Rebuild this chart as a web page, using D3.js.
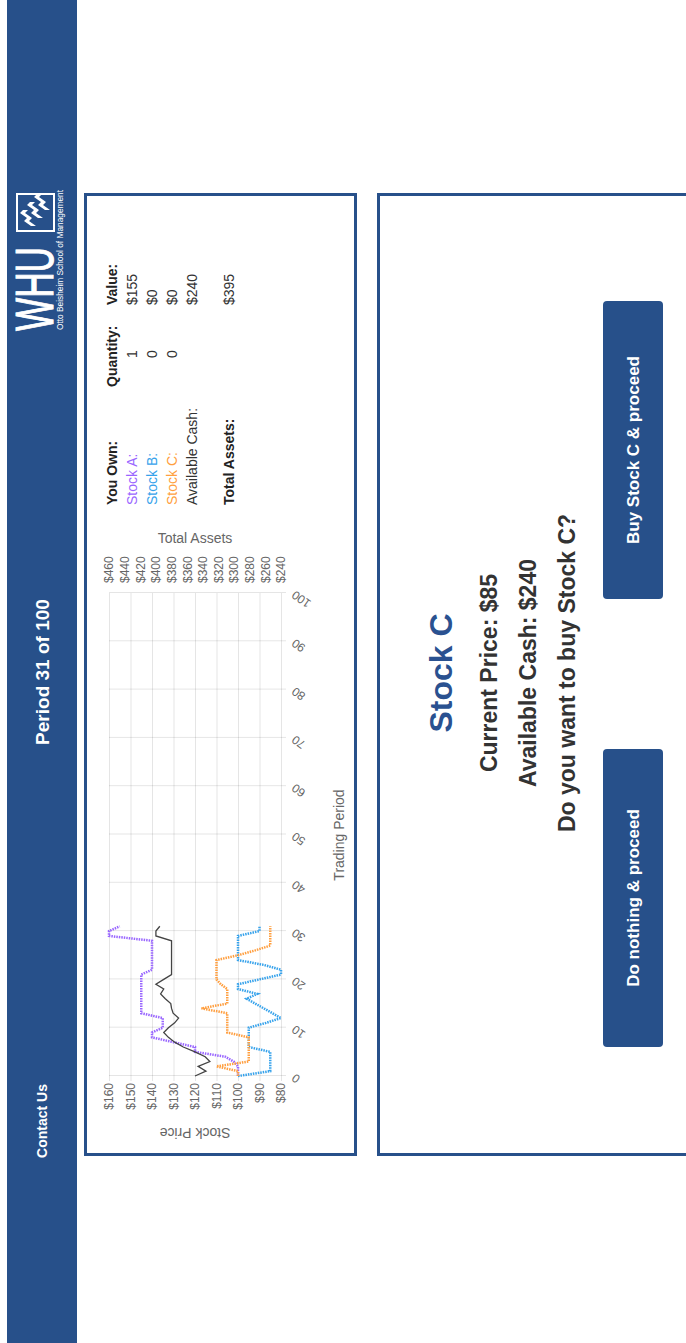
<!DOCTYPE html>
<html>
<head>
<meta charset="utf-8">
<script src="https://cdn.jsdelivr.net/npm/d3@7"></script>
<style>
  body { margin: 0; background: #fff; }
  svg { display: block; font-family: "Liberation Sans", Arial, Helvetica, sans-serif; }
</style>
</head>
<body>
<svg id="page" width="686" height="1343"></svg>
<script>
// trading periods shown so far
var periods = [0,1,2,3,4,5,6,7,8,9,10,11,12,13,14,15,16,17,18,19,20,21,22,23,24,25,26,27,28,29,30,31];
// stock prices per period
var stockA = [100,100,100,102,106,120,120,130,140,140,135,135,135,145,145,145,145,145,145,145,145,145,140,140,140,140,140,140,140,160,160,155];
var stockB = [100,85,85,85,85,85,95,95,95,95,95,87,80,84,88,92,96,91,100,100,90,80,80,88,100,100,100,100,100,100,90,90];
var stockC = [100,100,110,95,95,95,95,95,95,105,105,105,105,105,117,105,105,105,105,108,110,110,110,110,110,100,92,85,85,85,85,85];
var totalAssets = [350,336,346,331,337,350,365,376,384,390,384,376,371,378,380,381,388,394,390,400,390,380,380,380,380,380,380,380,380,400,400,395];

// axis ticks
var periodTicks = [0,10,20,30,40,50,60,70,80,90,100];
var priceTicks = [80,90,100,110,120,130,140,150,160];
var assetTicks = [240,260,280,300,320,340,360,380,400,420,440,460];

// holdings table
var ownLabels = ['Stock A:', 'Stock B:', 'Stock C:', 'Available Cash:'];
var ownQuantity = ['1', '0', '0', ''];
var ownValue = ['$155', '$0', '$0', '$240'];
var totalValue = '$395';

var W = 1343;
var BLUE = '#27508a';
var colA = '#9966ff', colB = '#36a2eb', colC = '#ff9f40';

var svg = d3.select('#page');
// the page is laid out landscape and turned a quarter to the left
var page = svg.append('g').attr('transform', 'translate(0,' + W + ') rotate(-90)');

// header bar
page.append('rect').attr('x', 0).attr('y', 7).attr('width', W).attr('height', 70).attr('fill', BLUE);
page.append('text').attr('x', 222).attr('y', 47).attr('text-anchor', 'middle')
  .attr('fill', '#fff').attr('font-size', 14).attr('font-weight', 'bold').text('Contact Us');
page.append('text').attr('x', 671).attr('y', 49).attr('text-anchor', 'middle')
  .attr('fill', '#fff').attr('font-size', 19).attr('font-weight', 'bold').text('Period 31 of 100');

// logo
var logo = page.append('g');
logo.append('text').attr('x', 1012).attr('y', 53).attr('fill', '#fff')
  .attr('font-size', 53).attr('stroke', '#fff').attr('stroke-width', 1)
  .attr('textLength', 84).attr('lengthAdjust', 'spacingAndGlyphs').text('WHU');
logo.append('rect').attr('x', 1112).attr('y', 17).attr('width', 37).attr('height', 37)
  .attr('fill', 'none').attr('stroke', '#fff').attr('stroke-width', 2);
[[1117, 31], [1125, 38], [1133, 45]].forEach(function (p) {
  logo.append('path')
    .attr('d', 'M' + p[0] + ',' + p[1] + ' l5,-7 l3,3 l5,-7 l3,3 v5 l-3,-3 l-5,7 l-3,-3 l-5,7 z')
    .attr('fill', '#fff');
});
logo.append('text').attr('x', 1013).attr('y', 63).attr('fill', '#fff')
  .attr('font-size', 9.5).attr('textLength', 140).attr('lengthAdjust', 'spacingAndGlyphs')
  .text('Otto Beisheim School of Management');

// cards
page.append('rect').attr('x', 188.5).attr('y', 85.5).attr('width', 960).attr('height', 270)
  .attr('fill', '#fff').attr('stroke', BLUE).attr('stroke-width', 3);
page.append('rect').attr('x', 188.5).attr('y', 378.5).attr('width', 960).attr('height', 420)
  .attr('fill', '#fff').attr('stroke', BLUE).attr('stroke-width', 3);

// chart
var x = d3.scaleLinear().domain([0, 100]).range([267, 750]);
var yP = d3.scaleLinear().domain([80, 160]).range([281, 109]);
var yT = d3.scaleLinear().domain([240, 460]).range([281, 109]);
var chart = page.append('g');

var gx = chart.append('g').attr('transform', 'translate(0,286)')
  .call(d3.axisBottom(x).tickValues(periodTicks).tickSize(-(286 - 109)).tickPadding(0));
gx.select('.domain').remove();
gx.selectAll('line').attr('stroke', 'rgba(0,0,0,0.1)');
gx.selectAll('text').attr('x', 0).attr('y', 0).attr('dy', '0.35em')
  .attr('text-anchor', 'end').attr('transform', 'translate(-1,7) rotate(-55)')
  .attr('fill', '#666').attr('font-size', 12).attr('font-family', null);

var gy = chart.append('g').attr('transform', 'translate(262,0)')
  .call(d3.axisLeft(yP).tickValues(priceTicks).tickFormat(function (d) { return '$' + d; })
    .tickSize(-(750 - 262)).tickPadding(2));
gy.select('.domain').remove();
gy.selectAll('line').attr('stroke', 'rgba(0,0,0,0.1)');
gy.selectAll('text').attr('fill', '#666').attr('font-size', 12).attr('font-family', null);

var gr = chart.append('g').attr('transform', 'translate(750,0)')
  .call(d3.axisRight(yT).tickValues(assetTicks).tickFormat(function (d) { return '$' + d; })
    .tickSize(0).tickPadding(10));
gr.select('.domain').remove();
gr.selectAll('text').attr('fill', '#666').attr('font-size', 12).attr('font-family', null);

// axis titles
chart.append('text').attr('transform', 'translate(210,195) rotate(-90)')
  .attr('text-anchor', 'middle').attr('dy', '0.35em').attr('fill', '#666').attr('font-size', 14).text('Stock Price');
chart.append('text').attr('transform', 'translate(805,195) rotate(90)')
  .attr('text-anchor', 'middle').attr('dy', '0.35em').attr('fill', '#666').attr('font-size', 14).text('Total Assets');
chart.append('text').attr('x', 508).attr('y', 344).attr('text-anchor', 'middle')
  .attr('fill', '#666').attr('font-size', 14).text('Trading Period');

// series
function lineOn(scale) {
  return d3.line().x(function (d, i) { return x(periods[i]); }).y(function (d) { return scale(d); });
}
[[stockA, colA], [stockB, colB], [stockC, colC]].forEach(function (s) {
  chart.append('path').attr('d', lineOn(yP)(s[0])).attr('fill', 'none')
    .attr('stroke', s[1]).attr('stroke-width', 2.5).attr('stroke-dasharray', '1.5,1');
});
chart.append('path').attr('d', lineOn(yT)(totalAssets)).attr('fill', 'none')
  .attr('stroke', '#444').attr('stroke-width', 1.3);

// holdings table
var table = page.append('g').attr('font-size', 14);
table.append('text').attr('x', 838).attr('y', 117).attr('font-weight', 'bold').attr('fill', '#222').text('You Own:');
table.append('text').attr('x', 956).attr('y', 117).attr('font-weight', 'bold').attr('fill', '#222').text('Quantity:');
table.append('text').attr('x', 1038).attr('y', 117).attr('font-weight', 'bold').attr('fill', '#222').text('Value:');
var rowColors = [colA, colB, colC, '#333'];
ownLabels.forEach(function (lab, i) {
  var yy = 137 + i * 20;
  table.append('text').attr('x', 838).attr('y', yy).attr('fill', rowColors[i]).text(lab);
  table.append('text').attr('x', 989).attr('y', yy).attr('text-anchor', 'middle').attr('fill', '#333').text(ownQuantity[i]);
  table.append('text').attr('x', 1038).attr('y', yy).attr('fill', '#333').text(ownValue[i]);
});
table.append('text').attr('x', 838).attr('y', 234).attr('font-weight', 'bold').attr('fill', '#222').text('Total Assets:');
table.append('text').attr('x', 1038).attr('y', 234).attr('fill', '#333').text(totalValue);

// decision card
var card = page.append('g').attr('text-anchor', 'middle').attr('font-weight', 'bold');
card.append('text').attr('x', 670).attr('y', 452).attr('font-size', 32).attr('fill', '#2a5190').text('Stock C');
card.append('text').attr('x', 670).attr('y', 497).attr('font-size', 23).attr('fill', '#333').text('Current Price: $85');
card.append('text').attr('x', 670).attr('y', 536).attr('font-size', 23).attr('fill', '#333').text('Available Cash: $240');
card.append('text').attr('x', 670).attr('y', 575).attr('font-size', 23).attr('fill', '#333').text('Do you want to buy Stock C?');

[[296, 'Do nothing & proceed'], [744, 'Buy Stock C & proceed']].forEach(function (b) {
  card.append('rect').attr('x', b[0]).attr('y', 603).attr('width', 298).attr('height', 60)
    .attr('rx', 4).attr('fill', BLUE);
  card.append('text').attr('x', b[0] + 149).attr('y', 639).attr('font-size', 17).attr('fill', '#fff').text(b[1]);
});
</script>
</body>
</html>
